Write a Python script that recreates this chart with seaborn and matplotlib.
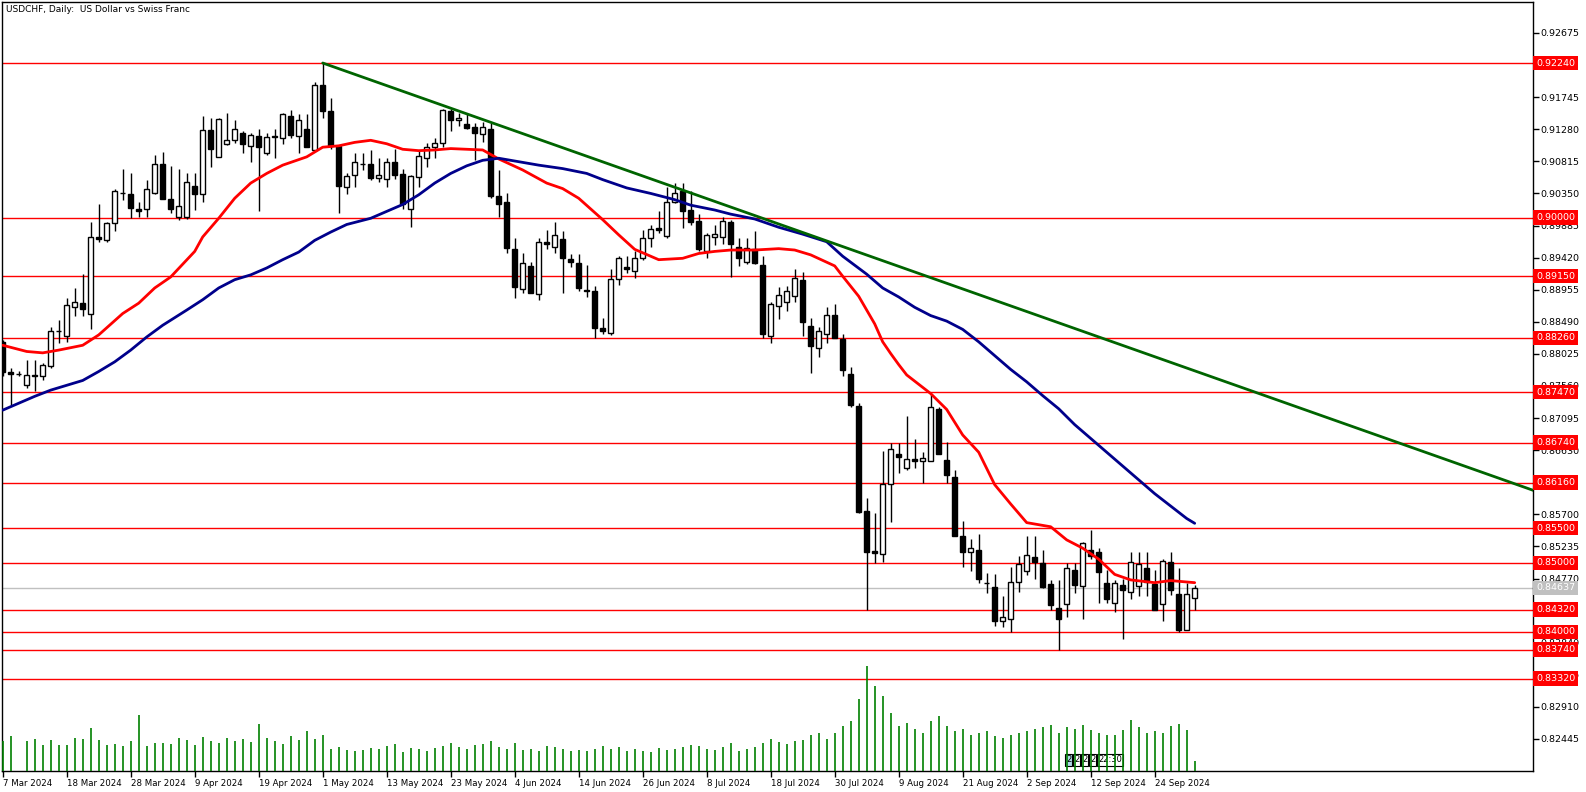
import matplotlib
matplotlib.use("Agg")
import matplotlib.pyplot as plt
import matplotlib.transforms as mtransforms
import numpy as np
import pandas as pd
import seaborn as sns

# ---------------- data ----------------
title = "USDCHF, Daily:  US Dollar vs Swiss Franc"

opens = [0.8820, 0.8776, 0.8773, 0.8758, 0.8771, 0.8770, 0.8785, 0.8835, 0.8829, 0.8871,
         0.8876, 0.8861, 0.8972, 0.8967, 0.8992, 0.9036, 0.9034, 0.9013, 0.9013, 0.9036,
         0.9077, 0.9027, 0.9001, 0.9001, 0.9046, 0.9034, 0.9127, 0.9088, 0.9107, 0.9113,
         0.9122, 0.9104, 0.9118, 0.9093, 0.9118, 0.9116, 0.9147, 0.9118, 0.9129, 0.9098,
         0.9192, 0.9155, 0.9104, 0.9045, 0.9061, 0.9078, 0.9078, 0.9058, 0.9056, 0.9080,
         0.9063, 0.9013, 0.9059, 0.9086, 0.9102, 0.9108, 0.9155, 0.9141, 0.9135, 0.9131,
         0.9121, 0.9129, 0.9031, 0.9023, 0.8954, 0.8896, 0.8930, 0.8890, 0.8965, 0.8957,
         0.8969, 0.8940, 0.8934, 0.8895, 0.8894, 0.8840, 0.8833, 0.8911, 0.8928, 0.8923,
         0.8942, 0.8970, 0.8985, 0.8973, 0.9022, 0.9038, 0.9011, 0.8995, 0.8952, 0.8972,
         0.8972, 0.8994, 0.8957, 0.8935, 0.8954, 0.8931, 0.8829, 0.8872, 0.8877, 0.8887,
         0.8910, 0.8843, 0.8811, 0.8832, 0.8859, 0.8824, 0.8773, 0.8727, 0.8575, 0.8517,
         0.8513, 0.8614, 0.8657, 0.8637, 0.8650, 0.8647, 0.8648, 0.8722, 0.8649, 0.8624,
         0.8539, 0.8516, 0.8519, 0.8471, 0.8464, 0.8416, 0.8419, 0.8472, 0.8488, 0.8508,
         0.8499, 0.8469, 0.8435, 0.8440, 0.8490, 0.8466, 0.8519, 0.8515, 0.8470, 0.8442,
         0.8468, 0.8458, 0.8466, 0.8492, 0.8469, 0.8440, 0.8501, 0.8455, 0.8403, 0.8449]
highs = [0.8823, 0.8782, 0.8778, 0.8794, 0.8794, 0.8790, 0.8841, 0.8852, 0.8883, 0.8898,
         0.8918, 0.8994, 0.9020, 0.8994, 0.9042, 0.9070, 0.9064, 0.9022, 0.9055, 0.9091,
         0.9095, 0.9075, 0.9070, 0.9064, 0.9064, 0.9147, 0.9145, 0.9144, 0.9152, 0.9141,
         0.9125, 0.9123, 0.9128, 0.9122, 0.9129, 0.9151, 0.9156, 0.9150, 0.9150, 0.9196,
         0.9224, 0.9173, 0.9104, 0.9065, 0.9093, 0.9093, 0.9098, 0.9086, 0.9086, 0.9100,
         0.9070, 0.9062, 0.9096, 0.9108, 0.9115, 0.9157, 0.9158, 0.9152, 0.9150, 0.9137,
         0.9139, 0.9137, 0.9069, 0.9035, 0.8971, 0.8948, 0.8935, 0.8971, 0.8982, 0.8993,
         0.8981, 0.8947, 0.8947, 0.8931, 0.8901, 0.8854, 0.8925, 0.8944, 0.8944, 0.8951,
         0.8982, 0.8989, 0.9009, 0.9044, 0.9050, 0.9050, 0.9038, 0.9005, 0.8977, 0.8989,
         0.9001, 0.8997, 0.8971, 0.8971, 0.8980, 0.8944, 0.8878, 0.8900, 0.8901, 0.8926,
         0.8921, 0.8854, 0.8842, 0.8871, 0.8875, 0.8831, 0.8784, 0.8732, 0.8593, 0.8572,
         0.8662, 0.8673, 0.8673, 0.8712, 0.8679, 0.8661, 0.8745, 0.8725, 0.8675, 0.8634,
         0.8560, 0.8534, 0.8542, 0.8485, 0.8484, 0.8452, 0.8493, 0.8510, 0.8538, 0.8538,
         0.8519, 0.8475, 0.8475, 0.8500, 0.8499, 0.8530, 0.8548, 0.8521, 0.8490, 0.8475,
         0.8477, 0.8515, 0.8516, 0.8516, 0.8489, 0.8506, 0.8516, 0.8492, 0.8470, 0.8468]
lows = [0.8770, 0.8728, 0.8771, 0.8753, 0.8749, 0.8765, 0.8782, 0.8818, 0.8820, 0.8857,
        0.8857, 0.8838, 0.8964, 0.8964, 0.8981, 0.9025, 0.8999, 0.9001, 0.9001, 0.9034,
        0.9027, 0.9007, 0.8996, 0.8998, 0.9011, 0.9023, 0.9073, 0.9088, 0.9105, 0.9108,
        0.9093, 0.9080, 0.9010, 0.9091, 0.9086, 0.9106, 0.9116, 0.9094, 0.9103, 0.9096,
        0.9145, 0.9099, 0.9006, 0.9034, 0.9044, 0.9069, 0.9054, 0.9051, 0.9044, 0.9056,
        0.9013, 0.8987, 0.9045, 0.9074, 0.9086, 0.9102, 0.9125, 0.9132, 0.9129, 0.9084,
        0.9110, 0.9028, 0.9001, 0.8949, 0.8883, 0.8891, 0.8891, 0.8881, 0.8954, 0.8948,
        0.8891, 0.8929, 0.8893, 0.8885, 0.8825, 0.8831, 0.8830, 0.8902, 0.8919, 0.8912,
        0.8939, 0.8957, 0.8977, 0.8970, 0.9021, 0.8985, 0.8989, 0.8951, 0.8942, 0.8960,
        0.8962, 0.8914, 0.8930, 0.8933, 0.8933, 0.8825, 0.8819, 0.8853, 0.8864, 0.8877,
        0.8828, 0.8775, 0.8798, 0.8819, 0.8825, 0.8770, 0.8725, 0.8572, 0.8431, 0.8499,
        0.8501, 0.8559, 0.8630, 0.8634, 0.8637, 0.8616, 0.8648, 0.8658, 0.8615, 0.8539,
        0.8494, 0.8488, 0.8470, 0.8456, 0.8408, 0.8407, 0.8400, 0.8457, 0.8482, 0.8477,
        0.8463, 0.8432, 0.8374, 0.8421, 0.8456, 0.8419, 0.8505, 0.8442, 0.8442, 0.8429,
        0.8390, 0.8448, 0.8451, 0.8451, 0.8431, 0.8415, 0.8453, 0.8400, 0.8402, 0.8431]
closes = [0.8776, 0.8773, 0.8774, 0.8772, 0.8772, 0.8786, 0.8836, 0.8836, 0.8874, 0.8878,
          0.8867, 0.8972, 0.8969, 0.8992, 0.9038, 0.9035, 0.9014, 0.9009, 0.9041, 0.9077,
          0.9027, 0.9012, 0.9017, 0.9052, 0.9034, 0.9127, 0.9099, 0.9143, 0.9113, 0.9128,
          0.9106, 0.9120, 0.9102, 0.9117, 0.9117, 0.9150, 0.9119, 0.9141, 0.9103, 0.9192,
          0.9155, 0.9104, 0.9046, 0.9060, 0.9081, 0.9077, 0.9058, 0.9062, 0.9080, 0.9062,
          0.9019, 0.9060, 0.9089, 0.9103, 0.9108, 0.9156, 0.9141, 0.9145, 0.9130, 0.9123,
          0.9131, 0.9031, 0.9019, 0.8956, 0.8900, 0.8934, 0.8891, 0.8964, 0.8962, 0.8975,
          0.8942, 0.8936, 0.8898, 0.8893, 0.8840, 0.8835, 0.8911, 0.8941, 0.8926, 0.8942,
          0.8971, 0.8983, 0.8982, 0.9022, 0.9036, 0.9010, 0.8994, 0.8954, 0.8975, 0.8976,
          0.8995, 0.8962, 0.8942, 0.8956, 0.8934, 0.8831, 0.8875, 0.8888, 0.8894, 0.8913,
          0.8849, 0.8814, 0.8835, 0.8859, 0.8825, 0.8779, 0.8728, 0.8574, 0.8516, 0.8514,
          0.8614, 0.8664, 0.8653, 0.8650, 0.8647, 0.8651, 0.8725, 0.8658, 0.8627, 0.8539,
          0.8516, 0.8521, 0.8476, 0.8470, 0.8415, 0.8421, 0.8472, 0.8498, 0.8511, 0.8501,
          0.8464, 0.8438, 0.8419, 0.8492, 0.8468, 0.8528, 0.8509, 0.8487, 0.8447, 0.8470,
          0.8460, 0.8501, 0.8498, 0.8472, 0.8431, 0.8502, 0.8460, 0.8402, 0.8455, 0.84637]
volumes = [30, 35, 0, 30, 32, 26, 31, 26, 26, 33,
           32, 43, 31, 26, 27, 25, 30, 56, 25, 28,
           28, 27, 33, 31, 26, 34, 30, 28, 33, 30,
           32, 29, 47, 33, 30, 27, 35, 31, 40, 32,
           36, 22, 24, 21, 20, 21, 23, 22, 25, 27,
           19, 23, 22, 20, 23, 25, 28, 24, 22, 26,
           27, 30, 24, 22, 28, 21, 22, 20, 25, 24,
           22, 20, 21, 20, 22, 25, 22, 24, 20, 22,
           20, 19, 23, 21, 22, 24, 26, 25, 22, 21,
           24, 28, 20, 22, 24, 28, 32, 29, 27, 30,
           31, 36, 38, 32, 38, 45, 50, 72, 105, 85,
           75, 58, 45, 48, 42, 38, 50, 55, 45, 40,
           42, 36, 38, 40, 35, 33, 36, 38, 40, 42,
           44, 46, 38, 44, 42, 46, 41, 38, 36, 36,
           41, 51, 44, 38, 40, 38, 45, 47, 41, 10]

date_labels = ["7 Mar 2024", "18 Mar 2024", "28 Mar 2024", "9 Apr 2024", "19 Apr 2024",
               "1 May 2024", "13 May 2024", "23 May 2024", "4 Jun 2024", "14 Jun 2024",
               "26 Jun 2024", "8 Jul 2024", "18 Jul 2024", "30 Jul 2024", "9 Aug 2024",
               "21 Aug 2024", "2 Sep 2024", "12 Sep 2024", "24 Sep 2024"]
date_label_bars = [0, 8, 16, 24, 32, 40, 48, 56, 64, 72, 80, 88, 96, 104, 112, 120, 128, 136, 144]

# price scale ticks (those fully hidden under level labels are not listed)
price_ticks = [0.82445, 0.82910, 0.83375, 0.83840, 0.84770, 0.85235, 0.85700,
               0.86630, 0.87095, 0.87560, 0.88025, 0.88490, 0.88955, 0.89420,
               0.89885, 0.90350, 0.90815, 0.91280, 0.91745, 0.92675]
levels = [0.92240, 0.90000, 0.89150, 0.88260, 0.87470, 0.86740, 0.86160, 0.85500,
          0.85000, 0.84320, 0.84000, 0.83740, 0.83320]
current_price = 0.84637

red_ma_bars = [0, 3, 5, 7, 10, 12, 15, 17, 19, 21, 24, 25, 27, 29, 31, 33, 35, 38, 40, 42,
               44, 46, 48, 50, 52, 54, 56, 58, 60, 62, 65, 68, 70, 72, 75, 77, 79, 82, 85, 87,
               89, 91, 94, 97, 99, 101, 104, 105, 107, 109, 110, 111, 112, 113, 114, 116, 118,
               120, 122, 124, 126, 128, 131, 133, 135, 137, 139, 141, 144, 146, 148, 149]
red_ma_vals = [0.8815, 0.8806, 0.8804, 0.8808, 0.8815, 0.8830, 0.8861, 0.8876, 0.8898, 0.8914,
               0.8951, 0.8972, 0.8999, 0.9028, 0.9050, 0.9064, 0.9076, 0.9088, 0.9102, 0.9104,
               0.9109, 0.9112, 0.9107, 0.9099, 0.9097, 0.9098, 0.9100, 0.9099, 0.9098, 0.9085,
               0.9069, 0.9050, 0.9042, 0.9028, 0.8997, 0.8975, 0.8954, 0.8939, 0.8941, 0.8948,
               0.8951, 0.8953, 0.8953, 0.8955, 0.8953, 0.8946, 0.8930, 0.8915, 0.8886, 0.8846,
               0.8820, 0.8803, 0.8787, 0.8772, 0.8763, 0.8745, 0.8722, 0.8685, 0.8660, 0.8613,
               0.8585, 0.8558, 0.8552, 0.8533, 0.8521, 0.8505, 0.8483, 0.8475, 0.8471, 0.8474,
               0.8472, 0.8471]
blue_ma_bars = [0, 4, 6, 10, 12, 14, 16, 18, 20, 23, 25, 27, 29, 31, 33, 35, 37, 39, 41, 43,
                46, 48, 50, 52, 54, 56, 58, 60, 62, 64, 67, 70, 73, 75, 78, 81, 84, 86, 89, 91,
                94, 97, 100, 103, 105, 108, 110, 112, 114, 116, 118, 120, 122, 124, 126, 128,
                130, 132, 134, 136, 138, 140, 142, 144, 146, 148, 149]
blue_ma_vals = [0.8721, 0.8741, 0.8750, 0.8764, 0.8777, 0.8791, 0.8808, 0.8827, 0.8844, 0.8866,
                0.8881, 0.8898, 0.8910, 0.8917, 0.8927, 0.8939, 0.8950, 0.8967, 0.8979, 0.8990,
                0.8999, 0.9009, 0.9019, 0.9033, 0.9050, 0.9064, 0.9075, 0.9083, 0.9086, 0.9082,
                0.9076, 0.9071, 0.9064, 0.9055, 0.9043, 0.9035, 0.9026, 0.9018, 0.9011, 0.9005,
                0.8998, 0.8986, 0.8976, 0.8965, 0.8944, 0.8918, 0.8898, 0.8885, 0.8870, 0.8858,
                0.8850, 0.8838, 0.8820, 0.8800, 0.8780, 0.8762, 0.8742, 0.8723, 0.8700, 0.8680,
                0.8660, 0.8640, 0.8620, 0.8600, 0.8582, 0.8564, 0.8557]
trend_bars = [40, 192]
trend_prices = [0.92240, 0.86020]

event_marks = ["2", "2", "2", "2", "22:30"]
event_bars = [133, 134, 135, 136, 137]

# ---------------- figure ----------------
sns.set_theme(style="white")
plt.rcParams["font.family"] = ["DejaVu Sans"]
plt.rcParams["axes.linewidth"] = 1.0
FS = 6.8
FS_DATE = 6.2

W, H = 1586, 792
fig = plt.figure(figsize=(W / 100, H / 100), dpi=100)
fig.patch.set_facecolor("white")
left_px, right_px, top_px, bot_px = 2, 1533, 2, 771
ax = fig.add_axes([left_px / W, 1 - bot_px / H, (right_px - left_px) / W, (bot_px - top_px) / H])

n = len(opens)
bars = np.arange(n)
df = pd.DataFrame({"bar": bars, "open": opens, "high": highs, "low": lows,
                   "close": closes, "volume": volumes})

# volume panel (twin axis, bottom of chart)
vax = ax.twinx()
vax.vlines(df["bar"], 0, df["volume"], color="#008000", lw=1.2, zorder=1)
vax.set_ylim(0, bot_px - top_px)
vax.set_yticks([])
for s in vax.spines.values():
    s.set_visible(False)
vax.tick_params(right=False, labelright=False)

# levels
for lv in levels:
    ax.axhline(lv, color="#ff0000", lw=1.0, zorder=2)
ax.axhline(current_price, color="#c0c0c0", lw=1.0, zorder=2)

# candles
ax.vlines(df["bar"], df["low"], df["high"], color="black", lw=1.0, zorder=4)
up = df["close"] >= df["open"]
body_bottom = np.minimum(df["open"], df["close"])
body_h = np.abs(df["close"] - df["open"])
ax.bar(df["bar"][up], body_h[up], bottom=body_bottom[up], width=0.62,
       color="white", edgecolor="black", linewidth=1.0, zorder=5)
ax.bar(df["bar"][~up], body_h[~up], bottom=body_bottom[~up], width=0.62,
       color="black", edgecolor="black", linewidth=1.0, zorder=5)

# moving averages
sns.lineplot(x=red_ma_bars, y=red_ma_vals, ax=ax, color="#ff0000", lw=2.0, zorder=6)
sns.lineplot(x=blue_ma_bars, y=blue_ma_vals, ax=ax, color="#00008b", lw=2.0, zorder=6)
# trend line
ax.plot(trend_bars, trend_prices, color="#006400", lw=2.0, zorder=6)

# axes limits
ax.set_xlim(-0.09, 191.29)
ax.set_ylim(0.81981, 0.93124)
ax.set_xlabel("")
ax.set_ylabel("")
ax.grid(False)

# y ticks on right
ax.yaxis.tick_right()
ax.set_yticks(price_ticks)
ax.set_yticklabels([f"{p:.5f}" for p in price_ticks])
ax.tick_params(axis="y", which="both", right=True, left=False, labelright=True, labelleft=False,
               direction="out", length=4, width=1, pad=1.5, labelsize=FS, colors="black")

# x ticks
ax.set_xticks(date_label_bars)
ax.set_xticklabels(date_labels, ha="left")
ax.tick_params(axis="x", direction="out", length=4, width=1, pad=1.8, labelsize=FS_DATE,
               colors="black", bottom=True)

for s in ax.spines.values():
    s.set_visible(True)
    s.set_color("black")
    s.set_linewidth(1.0)

# level labels
trans = mtransforms.blended_transform_factory(ax.transAxes, ax.transData)
xl = 1.0 + 3.0 / (right_px - left_px)
for lv in levels:
    ax.text(xl, lv, f"{lv:.5f}", transform=trans, color="white", fontsize=FS, ha="left",
            va="center", clip_on=False, zorder=20,
            bbox=dict(boxstyle="square,pad=0.28", fc="#ff0000", ec="none"))
ax.text(xl, current_price, f"{current_price:.5f}", transform=trans, color="white", fontsize=FS,
        ha="left", va="center", clip_on=False, zorder=20,
        bbox=dict(boxstyle="square,pad=0.28", fc="#c0c0c0", ec="none"))

# event markers
etrans = mtransforms.blended_transform_factory(ax.transData, ax.transAxes)
for i, (lab, b) in enumerate(zip(event_marks, event_bars)):
    ax.text(b - 0.1, 11 / (bot_px - top_px), lab, transform=etrans, fontsize=6.0, ha="left",
            va="center", zorder=21, color="black",
            bbox=dict(boxstyle="square,pad=0.15", fc="#add8e6" if i == 0 else "white",
                      ec="black", lw=0.8))

# title
fig.text(6 / W, 1 - 9 / H, title, fontsize=6.5, ha="left", va="center", color="black")

fig.savefig("out.png", dpi=100, facecolor="white")
